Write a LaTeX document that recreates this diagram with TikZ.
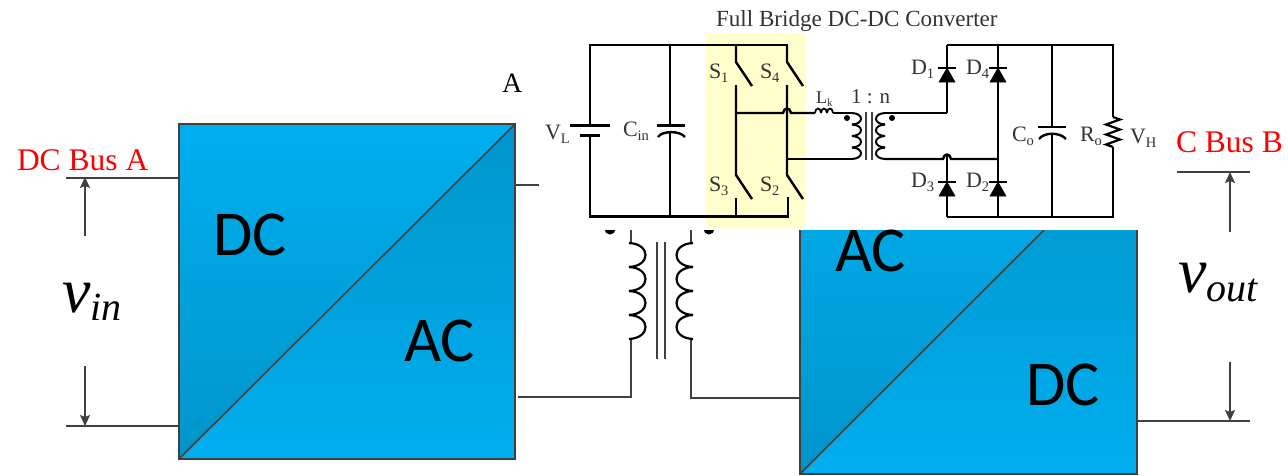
\documentclass[tikz,border=0pt]{standalone}
\usepackage{fontspec}
\setmainfont{Liberation Serif}
\newfontfamily\boxfont{Carlito}
\newcommand{\fsz}[1]{\fontsize{#1}{#1}\selectfont}
\newcommand{\sbs}[1]{\raisebox{-0.22em}{\fsz{14.5}#1}}
\definecolor{blueL}{HTML}{00AEEF}
\definecolor{blueD}{HTML}{0095CB}
\definecolor{edge}{HTML}{404040}
\definecolor{ink}{HTML}{333333}
\definecolor{hilite}{HTML}{FFFFCC}
\usetikzlibrary{arrows.meta}
\tikzset{
  lbl/.style={inner sep=0pt,outer sep=0pt,anchor=base west},
  circ/.style={lbl,text=ink,font=\fsz{22}},
  busl/.style={lbl,text=red,font=\fsz{31.5}},
  blockl/.style={lbl,text=black,font=\boxfont\fsz{64}},
  edgeline/.style={draw=edge,line width=1.6pt},
  dimarrow/.style={draw=edge,line width=1.4pt,-{Stealth[length=11pt,width=10pt,inset=2pt]}},
  wire/.style={draw=black,line width=2.4pt,line join=miter},
  coil/.style={draw=black,line width=2.2pt},
  corel/.style={draw=edge,line width=1.2pt},
  diodetri/.style={fill=black,draw=black,line width=.5pt},
}
\begin{document}
\begin{tikzpicture}[x=1pt,y=-1pt]
\useasboundingbox (0,0) rectangle (1288,475);
\fill[white] (0,0) rectangle (1288,475);

% left block
\fill[top color=blueL,bottom color=blueD] (179,124) -- (515,124) -- (179,459) -- cycle;
\fill[top color=blueD,bottom color=blueL] (515,124) -- (515,459) -- (179,459) -- cycle;
\draw[edgeline] (179,124) rectangle (515,459);
\draw[edgeline] (179,459) -- (515,124);

% right block (its top is covered by the circuit picture)
\begin{scope}
\clip (790,230) rectangle (1145,475);
\fill[top color=blueL,bottom color=blueD] (800,137) -- (1137,137) -- (800,474) -- cycle;
\fill[top color=blueD,bottom color=blueL] (1137,137) -- (1137,474) -- (800,474) -- cycle;
\draw[edgeline] (800,137) rectangle (1137,474);
\draw[edgeline] (800,474) -- (1137,137);
\end{scope}

% block labels
\node[blockl] (dcA) at (213,255) {DC};
\node[blockl] (acA) at (404,361) {AC};
\node[blockl] (acB) at (835,271) {AC};
\node[blockl] (dcB) at (1026,405) {DC};

% input side
\coordinate (inT) at (66,178); \coordinate (inTb) at (179,178);
\coordinate (inB) at (66,426); \coordinate (inBb) at (179,426);
\draw[edgeline] (inT) -- (inTb);
\draw[edgeline] (inB) -- (inBb);
\coordinate (inA1) at (85,236); \coordinate (inA2) at (85,177);
\coordinate (inA3) at (85,366); \coordinate (inA4) at (85,426);
\draw[dimarrow] (inA1) -- (inA2);
\draw[dimarrow] (inA3) -- (inA4);
\node[busl] (busA) at (17,170) {DC Bus A};
\node[lbl] (vin) at (62,312) {\itshape\fsz{64}v\raisebox{-8pt}{\fsz{40}in}};

% output side
\coordinate (outT) at (1177,172); \coordinate (outTe) at (1250,172);
\coordinate (outB) at (1137,421); \coordinate (outBe) at (1250,421);
\draw[edgeline] (outT) -- (outTe);
\draw[edgeline] (outB) -- (outBe);
\coordinate (outA1) at (1230,232); \coordinate (outA2) at (1230,172);
\coordinate (outA3) at (1230,362); \coordinate (outA4) at (1230,421);
\draw[dimarrow] (outA1) -- (outA2);
\draw[dimarrow] (outA3) -- (outA4);
\node[busl] (busB) at (1176,152) {C Bus B};
\node[lbl] (vout) at (1178,292) {\itshape\fsz{64}v\raisebox{-9pt}{\fsz{40}out}};

% A terminal
\node[lbl,font=\fsz{28}] (termA) at (502,92) {A};
\coordinate (aw1) at (515,185); \coordinate (aw2) at (539,185);
\draw[edgeline] (aw1) -- (aw2);

% lower transformer
\coordinate (tl0) at (631,230); \coordinate (tl1) at (631,243);
\coordinate (tl2) at (631,339); \coordinate (tl3) at (631,397); \coordinate (tl4) at (518,397);
\coordinate (tr0) at (691,230); \coordinate (tr1) at (691,243);
\coordinate (tr2) at (691,339); \coordinate (tr3) at (691,398); \coordinate (tr4) at (800,398);
\draw[edgeline] (tl0) -- (tl1);
\draw[edgeline] (tl2) -- (tl3) -- (tl4);
\draw[edgeline] (tr0) -- (tr1);
\draw[edgeline] (tr2) -- (tr3) -- (tr4);
\foreach \yy in {243,267,291,315}{
  \draw[coil] (629,\yy) .. controls (651,\yy+1) and (651,\yy+23) .. (629,\yy+24);
  \draw[coil] (693,\yy) .. controls (671,\yy+1) and (671,\yy+23) .. (693,\yy+24);
}
\draw[corel] (657,242) -- (657,359);
\draw[corel] (665,242) -- (665,359);
\begin{scope}
\clip (590,230) rectangle (730,240);
\fill[black] (610,229) circle (5.5);
\fill[black] (709,229) circle (5.5);
\end{scope}

% highlight and title
\fill[hilite,rounded corners=6pt] (706,33) rectangle (806,228);
\node[lbl,text=ink,font=\fsz{23.1}] (title) at (716,26) {Full Bridge DC-DC Converter};

% source side
\draw[wire] (590,135.5) -- (590,216.5) -- (788,216.5) -- (788,197);
\draw[wire] (590,125.5) -- (590,45) -- (788,45);
\draw[wire,line width=2.8pt] (570,125.5) -- (610,125.5);
\draw[wire,line width=3pt] (580,135.5) -- (600,135.5);
\draw[wire] (670,45) -- (670,125);
\draw[wire] (670,133) -- (670,216.5);
\draw[wire,line width=2.8pt] (657,125.5) -- (685,125.5);
\draw[wire] (658,137) .. controls (662,130.5) and (680,130.5) .. (685,137);
\node[circ] (VL) at (545,139) {V\sbs{L}};
\node[circ] (Cin) at (623,136) {C\sbs{in}};

% switches
\draw[wire] (736,45) -- (736,62) -- (752,86);
\draw[wire] (787,45) -- (787,62) -- (803,86);
\draw[wire] (736,85) -- (736,175) -- (752,199);
\draw[wire] (787,85) -- (787,175) -- (803,199);
\draw[wire] (736,198) -- (736,216.5);
\node[circ] (S1) at (709,78) {S\sbs{1}};
\node[circ] (S4) at (760,78) {S\sbs{4}};
\node[circ] (S3) at (709,191) {S\sbs{3}};
\node[circ] (S2) at (760,191) {S\sbs{2}};

% bridge outputs and primary
\draw[wire] (736,113) -- (783,113) .. controls (784,107) and (790,107) .. (791,113) -- (815,113);
\draw[wire] (787,159) -- (853,159);
\foreach \xx in {815,821,827}{
  \draw[line width=1.7pt] (\xx,113) .. controls (\xx+.5,107) and (\xx+5.5,107) .. (\xx+6,113);
}
\draw[line width=2pt] (833,113) -- (853,113);
\foreach \yy in {113,124.5,136,147.5}{
  \draw[line width=2pt] (852,\yy) .. controls (864,\yy+.5) and (864,\yy+11) .. (852,\yy+11.5);
  \draw[line width=2pt] (885,\yy) .. controls (873,\yy+.5) and (873,\yy+11) .. (885,\yy+11.5);
}
\draw[corel] (866,112) -- (866,160);
\draw[corel] (872,112) -- (872,160);
\fill[black] (847,118) circle (3);
\fill[black] (892,118) circle (3);
\node[lbl,text=ink,font=\fsz{18}] (Lk) at (816,103) {L\raisebox{-0.2em}{\fsz{11}k}};
\node[lbl,text=ink,font=\fsz{21}] (ratio) at (851,103) {1 : n};

% rectifier
\draw[wire] (885,113) -- (947,113);
\draw[wire] (885,159) -- (943,159) .. controls (944,153) and (950,153) .. (951,159) -- (998,159);
\draw[wire] (947,45) -- (947,113);
\draw[wire] (947,155) -- (947,217);
\draw[wire] (998,45) -- (998,217);
\draw[wire] (947,45) -- (1113,45) -- (1113,117);
\draw[wire] (947,217) -- (1113,217) -- (1113,147);
\draw[wire] (1052,45) -- (1052,127);
\draw[wire] (1052,135) -- (1052,217);
\foreach \xx/\yy in {947/68,998/68,947/182,998/182}{
  \fill[diodetri] (\xx,\yy) -- (\xx-8,\yy+14) -- (\xx+8,\yy+14) -- cycle;
  \draw[wire] (\xx-9,\yy) -- (\xx+9,\yy);
}
\draw[wire,line width=2.8pt] (1038,127) -- (1066,127);
\draw[wire] (1039,139) .. controls (1044,132) and (1060,132) .. (1066,139);
\draw[wire,line width=2.2pt] (1113,117) -- (1120,119.5) -- (1106,124.5) -- (1120,129.5) -- (1106,134.5) -- (1120,139.5) -- (1106,144.5) -- (1113,147);
\node[circ] (D1) at (911,74) {D\sbs{1}};
\node[circ] (D4) at (966,74) {D\sbs{4}};
\node[circ] (D3) at (911,187) {D\sbs{3}};
\node[circ] (D2) at (966,187) {D\sbs{2}};
\node[circ] (Co) at (1012,141) {C\sbs{o}};
\node[circ] (Ro) at (1080,141) {R\sbs{o}};
\node[circ] (VH) at (1130,143) {V\sbs{H}};
\end{tikzpicture}
\end{document}
